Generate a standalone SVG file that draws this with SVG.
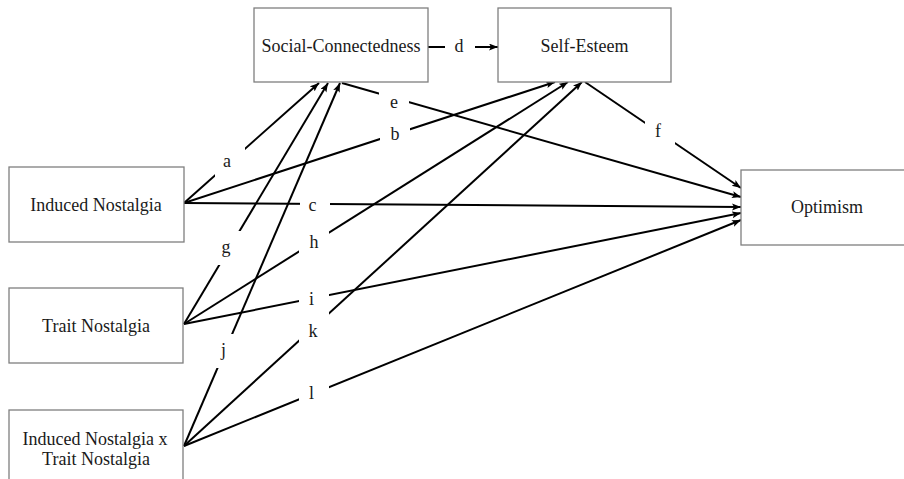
<svg xmlns="http://www.w3.org/2000/svg" width="904" height="479" viewBox="0 0 904 479">
<style>
.box{fill:#fff;stroke:#7f7f7f;stroke-width:1.3}
.t{font-family:"Liberation Serif","Times New Roman",serif;font-size:18px;fill:#1a1a1a;text-anchor:middle}
.c{stroke:#000;stroke-width:2;fill:none;marker-end:url(#ah)}
.lb{fill:#fff}
</style>
<defs>
<marker id="ah" markerUnits="userSpaceOnUse" markerWidth="10" markerHeight="8" refX="9" refY="3.5" orient="auto">
<path d="M0,0 L9,3.5 L0,7 L2,3.5 z" fill="#000"/>
</marker>
</defs>
<rect width="904" height="479" fill="#fff"/>
<g id="connectors">
<line class="c" x1="184" y1="203" x2="319" y2="83"/>
<line class="c" x1="184" y1="203" x2="555" y2="82"/>
<line class="c" x1="184" y1="203" x2="741" y2="207"/>
<line class="c" x1="184" y1="324" x2="328" y2="83"/>
<line class="c" x1="184" y1="324" x2="568" y2="82"/>
<line class="c" x1="184" y1="324" x2="741" y2="213"/>
<line class="c" x1="184" y1="446" x2="340" y2="83"/>
<line class="c" x1="184" y1="446" x2="582" y2="82"/>
<line class="c" x1="184" y1="446" x2="741" y2="220"/>
<line class="c" x1="342" y1="83" x2="741" y2="197"/>
<line class="c" x1="585" y1="82" x2="741" y2="188"/>
<line class="c" x1="428" y1="47" x2="498" y2="47"/>
</g>
<g id="labels">
<rect class="lb" x="215" y="147" width="30" height="34"/><text class="t" x="227" y="167">a</text>
<rect class="lb" x="380" y="119" width="30" height="34"/><text class="t" x="395" y="140">b</text>
<rect class="lb" x="300" y="189" width="30" height="34"/><text class="t" x="312.5" y="211">c</text>
<rect class="lb" x="445" y="30" width="30" height="34"/><text class="t" x="459" y="52">d</text>
<rect class="lb" x="379" y="82" width="30" height="34"/><text class="t" x="394" y="108">e</text>
<rect class="lb" x="645" y="117" width="30" height="34"/><text class="t" x="658" y="137">f</text>
<rect class="lb" x="216" y="231" width="30" height="34"/><text class="t" x="226" y="253">g</text>
<rect class="lb" x="299" y="225" width="30" height="34"/><text class="t" x="314" y="248">h</text>
<rect class="lb" x="299" y="283" width="30" height="34"/><text class="t" x="311.5" y="305">i</text>
<rect class="lb" x="210" y="334" width="30" height="34"/><text class="t" x="223.5" y="356">j</text>
<rect class="lb" x="299" y="311" width="30" height="34"/><text class="t" x="313" y="337">k</text>
<rect class="lb" x="299" y="376" width="30" height="34"/><text class="t" x="311.5" y="399">l</text>
</g>
<g id="social-connectedness">
<rect class="box" x="254" y="8" width="174" height="74"/>
<text class="t" x="341" y="52">Social-Connectedness</text>
</g>
<g id="self-esteem">
<rect class="box" x="498" y="8" width="173" height="74"/>
<text class="t" x="584.5" y="52">Self-Esteem</text>
</g>
<g id="induced-nostalgia">
<rect class="box" x="9" y="167" width="175" height="75"/>
<text class="t" x="96" y="211">Induced Nostalgia</text>
</g>
<g id="trait-nostalgia">
<rect class="box" x="9" y="288" width="174" height="75"/>
<text class="t" x="96" y="332">Trait Nostalgia</text>
</g>
<g id="interaction">
<rect class="box" x="9" y="410" width="174" height="82"/>
<text class="t" x="95" y="445">Induced Nostalgia x</text>
<text class="t" x="96" y="465">Trait Nostalgia</text>
</g>
<g id="optimism">
<rect class="box" x="741" y="170" width="175" height="75"/>
<text class="t" x="827" y="213">Optimism</text>
</g>
</svg>
